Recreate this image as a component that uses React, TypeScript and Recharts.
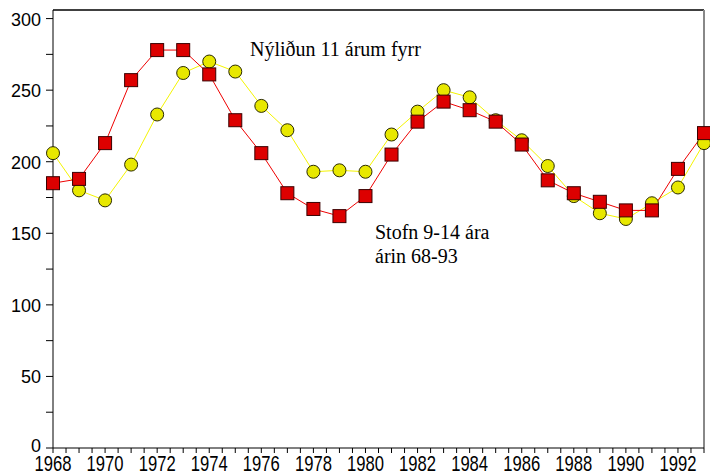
import { LineChart, Line, XAxis, YAxis, ReferenceLine } from 'recharts';

const years = [
  1968, 1969, 1970, 1971, 1972, 1973, 1974, 1975, 1976, 1977, 1978, 1979, 1980,
  1981, 1982, 1983, 1984, 1985, 1986, 1987, 1988, 1989, 1990, 1991, 1992, 1993,
];

// Stofn 9-14 ára (red squares)
const stofn = [
  185, 188, 213, 257, 278, 278, 261, 229, 206, 178, 167, 162, 176,
  205, 228, 242, 236, 228, 212, 187, 178, 172, 166, 166, 195, 220,
];

// Nýliðun 11 árum fyrr (yellow circles)
const nylidun = [
  206, 180, 173, 198, 233, 262, 270, 263, 239, 222, 193, 194, 193,
  219, 235, 250, 245, 229, 215, 197, 176, 164, 160, 171, 182, 213,
];

const xTicks = [
  1968, 1968.5, 1969, 1969.5, 1970, 1970.5, 1971, 1971.5, 1972, 1972.5, 1973, 1973.5,
  1974, 1974.5, 1975, 1975.5, 1976, 1976.5, 1977, 1977.5, 1978, 1978.5, 1979, 1979.5,
  1980, 1980.5, 1981, 1981.5, 1982, 1982.5, 1983, 1983.5, 1984, 1984.5, 1985, 1985.5,
  1986, 1986.5, 1987, 1987.5, 1988, 1988.5, 1989, 1989.5, 1990, 1990.5, 1991, 1991.5,
  1992, 1992.5, 1993,
];
const xLabels = [1968, 1970, 1972, 1974, 1976, 1978, 1980, 1982, 1984, 1986, 1988, 1990, 1992];

const yTicks = [0, 25, 50, 75, 100, 125, 150, 175, 200, 225, 250, 275, 300];
const yLabels = [0, 50, 100, 150, 200, 250, 300];

const data = years.map((year, i) => ({ year, stofn: stofn[i], nylidun: nylidun[i] }));

const TICK_FONT = '"Liberation Sans", Arial, sans-serif';
const SERIF = '"Liberation Serif", "Times New Roman", serif';

function XTick({ x, y, payload }: any) {
  if (!xLabels.includes(payload.value)) return null;
  return (
    <text
      x={x}
      y={y + 16}
      textAnchor="middle"
      fontFamily={TICK_FONT}
      fontSize={22}
      textLength={37}
      lengthAdjust="spacingAndGlyphs"
      fill="#000"
    >
      {payload.value}
    </text>
  );
}

function YTick({ x, y, payload }: any) {
  if (!yLabels.includes(payload.value)) return null;
  const s = String(payload.value);
  const dy = payload.value === 0 ? 4 : 7;
  return (
    <text
      x={x - 3}
      y={y + dy}
      textAnchor="end"
      fontFamily={TICK_FONT}
      fontSize={19}
      textLength={s.length * 10}
      lengthAdjust="spacingAndGlyphs"
      fill="#000"
    >
      {s}
    </text>
  );
}

function SquareDot({ cx, cy }: any) {
  if (cx == null || cy == null) return null;
  return <rect x={cx - 6.5} y={cy - 6.5} width={13} height={13} fill="#dd0000" stroke="#3a0000" strokeWidth={1} />;
}

function CircleDot({ cx, cy }: any) {
  if (cx == null || cy == null) return null;
  return <circle cx={cx} cy={cy} r={6.5} fill="#e8e800" stroke="#2a2a00" strokeWidth={1} />;
}

export default function App() {
  return (
    <div style={{ position: 'absolute', left: 0, top: 0, width: 710, height: 475, background: '#fff' }}>
      <LineChart width={710} height={475} data={data} margin={{ top: 10, right: 6, bottom: 0, left: 0 }}>
        <XAxis
          type="number"
          dataKey="year"
          domain={[1968, 1993]}
          ticks={xTicks}
          interval={0}
          tick={<XTick />}
          tickSize={5}
          height={27}
          stroke="#000"
          allowDecimals
        />
        <YAxis
          type="number"
          domain={[0, 306]}
          ticks={yTicks}
          interval={0}
          tick={<YTick />}
          tickSize={7}
          width={53}
          stroke="#000"
          allowDataOverflow
        />
        <ReferenceLine y={306} stroke="#000" strokeWidth={1.5} />
        <ReferenceLine x={1993} stroke="#888" strokeWidth={2} />
        <Line
          dataKey="nylidun"
          stroke="#f4f400"
          strokeWidth={1}
          dot={<CircleDot />}
          isAnimationActive={false}
        />
        <Line
          dataKey="stofn"
          stroke="#ee0000"
          strokeWidth={1}
          dot={<SquareDot />}
          isAnimationActive={false}
        />
      </LineChart>
      <div style={{ position: 'absolute', left: 250, top: 38, fontFamily: SERIF, fontSize: 20, whiteSpace: 'nowrap', color: '#000' }}>
        Nýliðun 11 árum fyrr
      </div>
      <div style={{ position: 'absolute', left: 375, top: 220, fontFamily: SERIF, fontSize: 20, lineHeight: '24px', whiteSpace: 'nowrap', color: '#000' }}>
        Stofn 9-14 ára
        <br />
        árin 68-93
      </div>
    </div>
  );
}
